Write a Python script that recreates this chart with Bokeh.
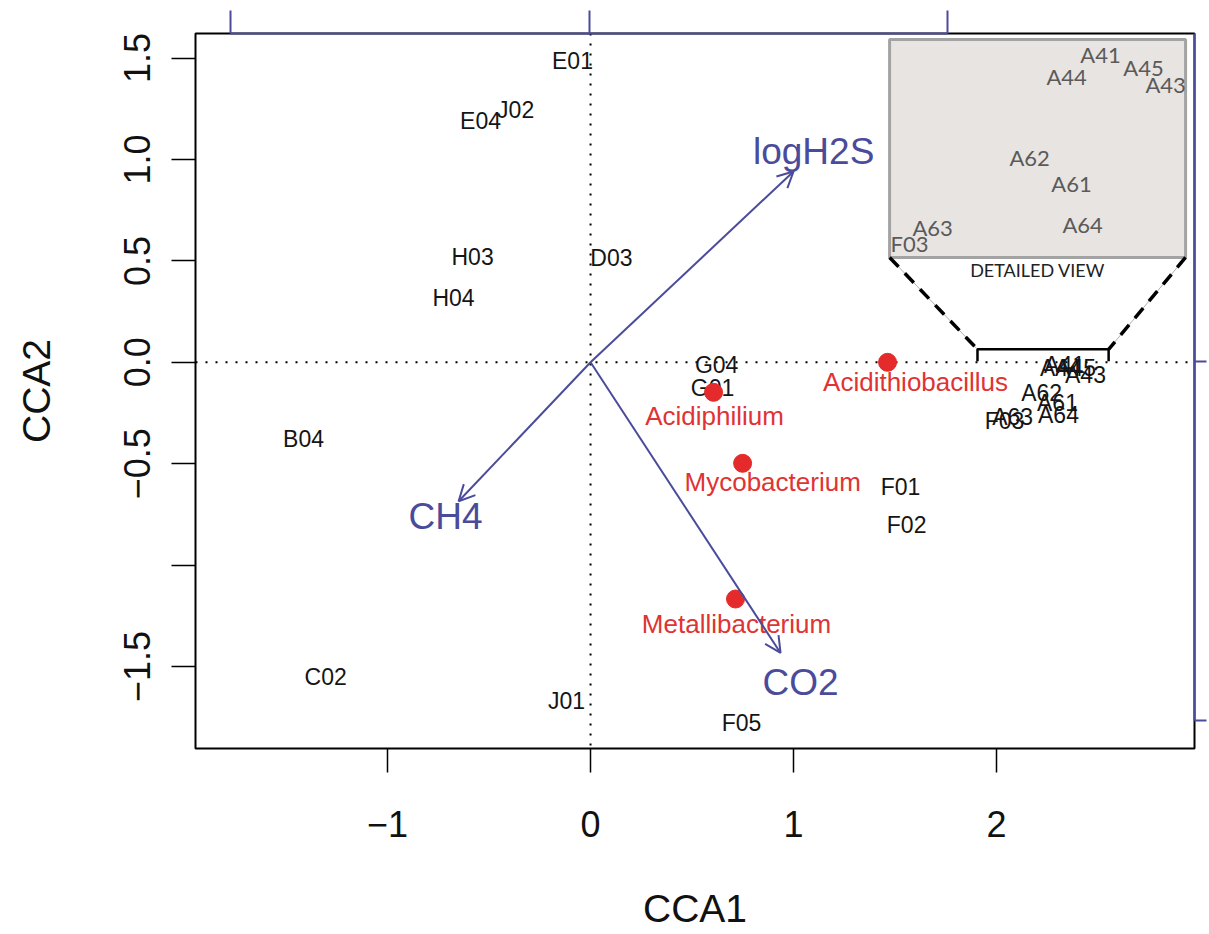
import math
from bokeh.plotting import figure
from bokeh.models import (ColumnDataSource, Range1d, LinearAxis, FixedTicker, Span,
                          Arrow, OpenHead)
from bokeh.core.properties import value
from bokeh.embed import file_html
from bokeh.resources import INLINE

# ---------------- data ----------------
site_names = ["E01", "E04", "J02", "H03", "H04", "D03", "G04", "G01", "B04", "F01", "F02",
              "C02", "J01", "F05", "A44", "A41", "A45", "A43", "A62", "A61", "A63", "F03", "A64"]
site_x = [-0.089, -0.542, -0.369, -0.581, -0.675, 0.103, 0.621, 0.601, -1.414, 1.527, 1.557,
          -1.305, -0.118, 0.744, 2.315, 2.335, 2.389, 2.438, 2.222, 2.300, 2.079, 2.039, 2.305]
site_y = [1.483, 1.192, 1.246, 0.517, 0.315, 0.512, -0.015, -0.128, -0.379, -0.616, -0.803,
          -1.552, -1.670, -1.778, -0.030, -0.015, -0.030, -0.064, -0.153, -0.202, -0.271, -0.291, -0.261]

genus_names = ["Acidithiobacillus", "Acidiphilium", "Mycobacterium", "Metallibacterium"]
genus_x = [1.463, 0.606, 0.749, 0.714]
genus_y = [0.000, -0.148, -0.498, -1.167]
genus_label_x = [1.601, 0.611, 0.897, 0.719]
genus_label_y = [-0.099, -0.266, -0.591, -1.291]

env_names = ["logH2S", "CH4", "CO2"]
env_x = [1.000, -0.650, 0.936]
env_y = [0.941, -0.685, -1.433]
env_label_x = [1.099, -0.714, 1.034]
env_label_y = [1.039, -0.761, -1.581]

inset_names = ["A41", "A44", "A45", "A43", "A62", "A61", "A64", "A63", "F03"]
inset_x = [2.512, 2.345, 2.724, 2.833, 2.163, 2.369, 2.424, 1.685, 1.571]
inset_y = [1.517, 1.409, 1.453, 1.369, 1.010, 0.882, 0.680, 0.665, 0.586]

x_ticks = [-1, 0, 1, 2]
x_tick_labels = ["\u22121", "0", "1", "2"]
y_ticks = [-1.5, -1.0, -0.5, 0.0, 0.5, 1.0, 1.5]
y_tick_labels = ["\u22121.5", "", "\u22120.5", "0.0", "0.5", "1.0", "1.5"]

# biplot-scale axes (top / right)
arrow_x_ticks = [-1, 0, 1]
arrow_y_ticks = [-1, 0]

# inset (detailed view) frame, in data units
INSET_BOX = dict(left=1.473, right=2.931, top=1.591, bottom=0.517)
BRACKET_X = [1.906, 1.906, 2.552, 2.552]
BRACKET_Y = [0.005, 0.064, 0.064, 0.005]

BLUE = "#4B4B9B"
RED = "#E42A2A"
FONT = "Liberation Sans"

p = figure(width=1209, height=934,
           x_range=Range1d(-1.946, 2.975), y_range=Range1d(-1.904, 1.621),
           output_backend="svg", toolbar_location=None,
           min_border_left=195, min_border_right=15, min_border_top=33, min_border_bottom=186,
           x_axis_label="CCA1", y_axis_label="CCA2")
p.grid.visible = False
p.outline_line_color = "black"
p.outline_line_width = 2
p.background_fill_color = "white"

# main axes
xa = p.xaxis[0]
xa.ticker = FixedTicker(ticks=x_ticks)
xa.major_label_overrides = {float(t): l for t, l in zip(x_ticks, x_tick_labels)}
ya = p.yaxis[0]
ya.ticker = FixedTicker(ticks=y_ticks)
ya.major_label_overrides = {float(t): l for t, l in zip(y_ticks, y_tick_labels)}
ya.major_label_orientation = "parallel"
for ax in (xa, ya):
    ax.axis_line_color = None
    ax.minor_tick_line_color = None
    ax.major_tick_in = 0
    ax.major_tick_out = 24
    ax.major_tick_line_width = 1.5
    ax.major_tick_line_color = "black"
    ax.major_label_text_font = FONT
    ax.major_label_text_font_size = "36px"
    ax.major_label_text_color = "#111111"
    ax.axis_label_text_font = FONT
    ax.axis_label_text_font_size = "39px"
    ax.axis_label_text_font_style = "normal"
    ax.axis_label_text_color = "#111111"
xa.major_label_standoff = 38
xa.axis_label_standoff = 47
ya.major_label_standoff = 21
ya.axis_label_standoff = 64

p.extra_x_ranges = {"arr": Range1d(-1.099, 1.688)}
p.extra_y_ranges = {"arry": Range1d(-1.078, 0.914)}
top_ax = LinearAxis(x_range_name="arr", ticker=FixedTicker(ticks=arrow_x_ticks), bounds=(-1, 1))
top_ax.major_label_overrides = {float(t): "" for t in arrow_x_ticks}
right_ax = LinearAxis(y_range_name="arry", ticker=FixedTicker(ticks=arrow_y_ticks), bounds=(-1, 0.914))
right_ax.major_label_overrides = {float(t): "" for t in arrow_y_ticks}
for ax, tout, fs in ((top_ax, 23, "8px"), (right_ax, 12, "2px")):
    ax.axis_line_color = BLUE
    ax.axis_line_width = 2
    ax.major_tick_line_color = BLUE
    ax.major_tick_line_width = 2
    ax.major_tick_in = 0
    ax.major_tick_out = tout
    ax.minor_tick_line_color = None
    ax.major_label_text_font_size = fs
    ax.major_label_standoff = 0
p.add_layout(top_ax, "above")
p.add_layout(right_ax, "right")

# dotted reference lines (under the marks)
p.add_layout(Span(location=0, dimension="width", line_color="black", line_width=2,
                  line_dash="2 8", level="underlay"))
p.add_layout(Span(location=0, dimension="height", line_color="black", line_width=2,
                  line_dash="2 8", level="underlay"))

# inset detailed view
p.quad(left=[INSET_BOX["left"]], right=[INSET_BOX["right"]], top=[INSET_BOX["top"]],
       bottom=[INSET_BOX["bottom"]], fill_color="#E7E4E1", line_color="#A3A3A3", line_width=3)
conn_x = [[INSET_BOX["left"], BRACKET_X[1]], [INSET_BOX["right"], BRACKET_X[2]]]
conn_y = [[INSET_BOX["bottom"], BRACKET_Y[1]], [INSET_BOX["bottom"], BRACKET_Y[2]]]
p.multi_line(conn_x, conn_y, line_color="#B0B0B0", line_width=1)
p.multi_line(conn_x, conn_y, line_color="black", line_width=3.5, line_dash="13 9")
p.line(BRACKET_X, BRACKET_Y, line_color="black", line_width=2.5)
p.text(x=inset_x, y=inset_y, text=inset_names, text_font=value("Lato"),
       text_font_size=value("22px"), text_color="#5A5A5A", text_align="center",
       text_baseline="middle")
p.text(x=[(INSET_BOX["left"] + INSET_BOX["right"]) / 2], y=[0.453], text=["DETAILED VIEW"],
       text_font=value("Lato"), text_font_size=value("18px"), text_color="#222222",
       text_align="center", text_baseline="middle")

# environmental arrows
env_src = ColumnDataSource(dict(x0=[0] * len(env_x), y0=[0] * len(env_y), x1=env_x, y1=env_y))
p.add_layout(Arrow(source=env_src, x_start="x0", y_start="y0", x_end="x1", y_end="y1",
                   line_color=BLUE, line_width=2,
                   end=OpenHead(size=16, line_color=BLUE, line_width=2)))
p.text(x=env_label_x, y=env_label_y, text=env_names, text_font=value(FONT),
       text_font_size=value("37px"), text_color=BLUE, text_align="center",
       text_baseline="middle")

# sites
p.text(x=site_x, y=site_y, text=site_names, text_font=value(FONT),
       text_font_size=value("23px"), text_color="#151515", text_align="center",
       text_baseline="middle")

# genera
p.scatter(x=genus_x, y=genus_y, size=18, fill_color=RED, line_color=RED)
p.text(x=genus_label_x, y=genus_label_y, text=genus_names, text_font=value(FONT),
       text_font_size=value("26px"), text_color="#E03333", text_align="center",
       text_baseline="middle")

open("out.html", "w").write(file_html(p, INLINE))
